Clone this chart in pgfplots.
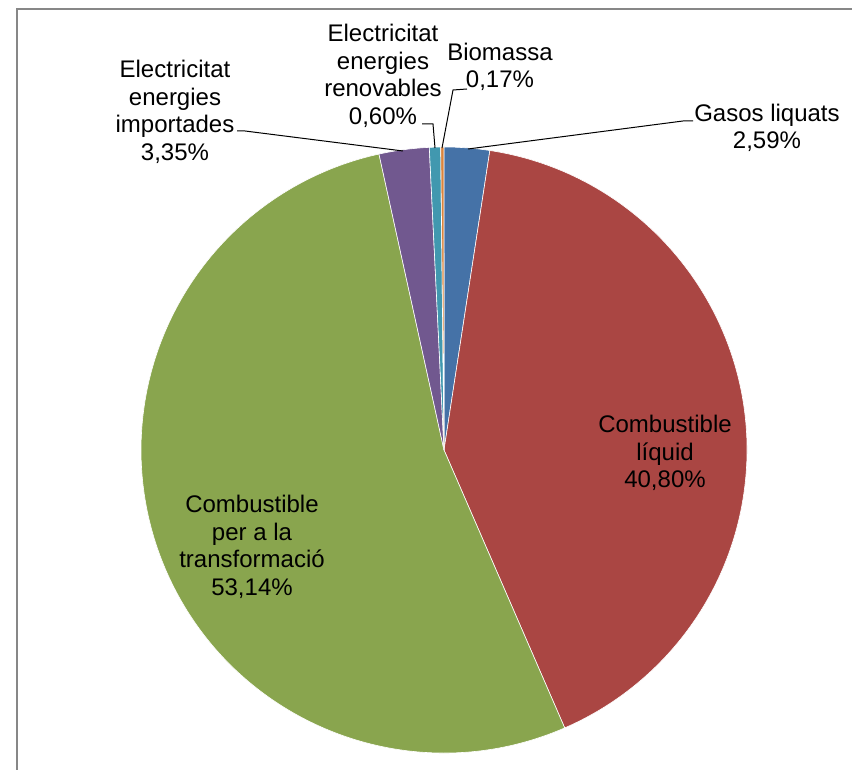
\documentclass[border=0pt]{standalone}
\usepackage{pgfplots}
\usepackage{pgfplotstable}
\pgfplotsset{compat=1.18}
\usepackage{fontspec}
\setmainfont{Liberation Sans}

\definecolor{pie0}{HTML}{4572A7}
\definecolor{pie1}{HTML}{AA4643}
\definecolor{pie2}{HTML}{89A54E}
\definecolor{pie3}{HTML}{71588F}
\definecolor{pie4}{HTML}{4198AF}
\definecolor{pie5}{HTML}{DB843D}
\definecolor{framegray}{HTML}{878787}

% slice sizes as drawn (read off the wedges), clockwise from the top
\pgfplotstableread{
value
2.42
41.06
53.08
2.67
0.60
0.17
}\piedata

% centre and radius, in pixels of the reference (y up)
\def\piecx{444}
\def\piecy{320}
\def\pier{151.5pt}

\gdef\piesum{0}
\pgfplotstableforeachcolumnelement{value}\of\piedata\as\v{%
  \pgfmathparse{\piesum+\v}\xdef\piesum{\pgfmathresult}}

\gdef\pieang{90}
\gdef\piecmds{}
\pgfplotstableforeachcolumnelement{value}\of\piedata\as\v{%
  \pgfmathparse{\pieang-\v/\piesum*360}\let\newang\pgfmathresult
  \xdef\piecmds{\piecmds
    \noexpand\fill[pie\pgfplotstablerow, draw=white, line width=0.3pt]
      (axis cs:\piecx,\piecy) -- ++(\pieang:\pier)
      arc[start angle=\pieang, end angle=\newang, radius=\pier] -- cycle;}%
  \xdef\pieang{\newang}}

\begin{document}
\begin{tikzpicture}
\begin{axis}[
    x=0.5pt, y=0.5pt,
    xmin=0, xmax=852, ymin=0, ymax=770,
    hide axis, clip=false,
]
\piecmds
\draw[framegray, line width=1.1pt] (axis cs:16.8,0) -- (axis cs:16.8,761.2) -- (axis cs:852,761.2);

\begin{scope}[every node/.style={align=center, text=black,
    font=\fontsize{12}{13.8}\selectfont, inner sep=0pt}]
\node at (axis cs:665,317) {Combustible\\líquid\\40,80\%};
\node at (axis cs:252,223) {Combustible\\per a la\\transformació\\53,14\%};
\node at (axis cs:175,658) {Electricitat\\energies\\importades\\3,35\%};
\node at (axis cs:383,694) {Electricitat\\energies\\renovables\\0,60\%};
\node at (axis cs:500,703) {Biomassa\\0,17\%};
\node at (axis cs:767,642) {Gasos liquats\\2,59\%};
\end{scope}

\begin{scope}[black, line width=0.5pt]
\draw (axis cs:468,621) -- (axis cs:683,649) -- (axis cs:693,649);
\draw (axis cs:442,622) -- (axis cs:453,680) -- (axis cs:467,681);
\draw (axis cs:435,622) -- (axis cs:433,646) -- (axis cs:422,646);
\draw (axis cs:403,619) -- (axis cs:245,639) -- (axis cs:237,639);
\end{scope}
\end{axis}
\pgfresetboundingbox
\path (current axis.south west) rectangle (current axis.north east);
\end{tikzpicture}
\end{document}
